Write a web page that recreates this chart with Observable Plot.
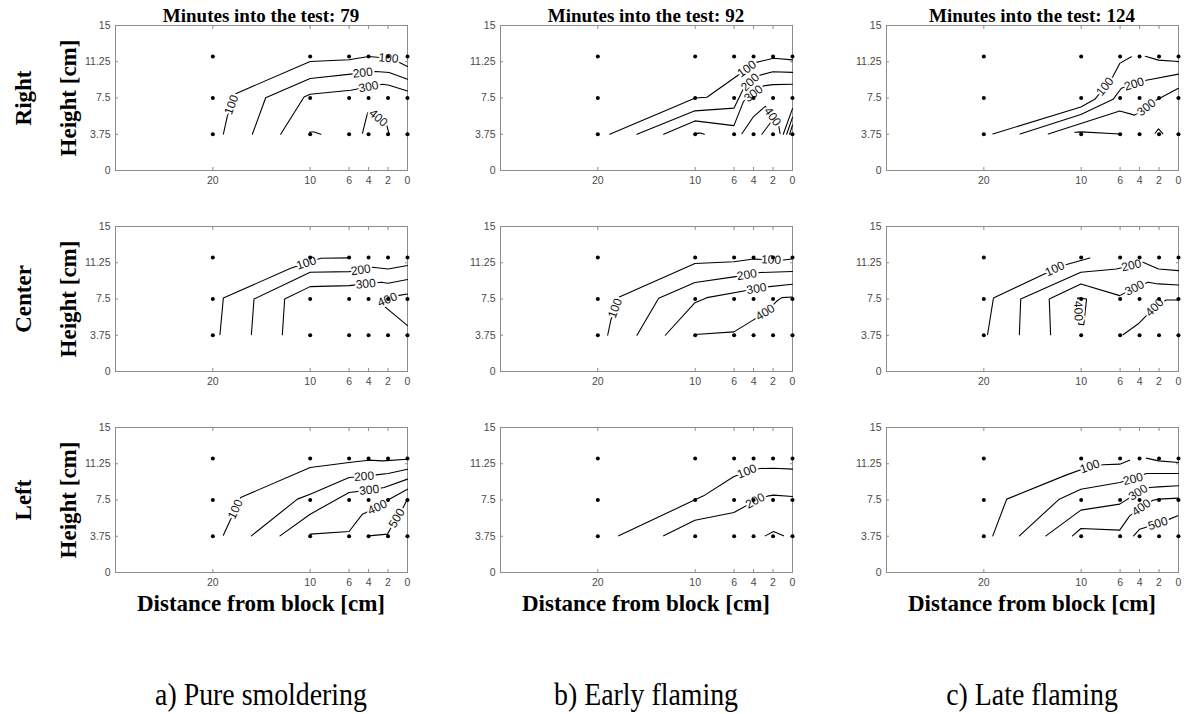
<!DOCTYPE html>
<html><head><meta charset="utf-8">
<script src="https://cdn.jsdelivr.net/npm/d3@7"></script>
<script src="https://cdn.jsdelivr.net/npm/@observablehq/plot@0.6"></script>
<style>
body{margin:0;background:#fff;}
#fig{position:relative;width:1184px;height:714px;overflow:hidden;background:#fff;}
.lbl{position:absolute;font-family:"Liberation Serif","Times New Roman",serif;color:#000;white-space:nowrap;line-height:1;transform:translate(-50%,-50%);}
.b{font-weight:bold;}
.rot{transform:translate(-50%,-50%) rotate(-90deg);}
.cond{transform:translate(-50%,-50%) scaleX(0.87);}
</style></head><body><div id="fig"></div>
<script>
// ---------- data ----------
const xTicks = [20, 10, 6, 4, 2, 0];
const yTicks = [0, 3.75, 7.5, 11.25, 15];
const probeX = [20, 10, 6, 4, 2, 0];
const probeY = [3.75, 7.5, 11.8];
const minutes = [79, 92, 124];
const stages = ["a) Pure smoldering", "b) Early flaming", "c) Late flaming"];
const positions = ["Right", "Center", "Left"];

// contour lines: [level, [[distance, height], ...]]
const linesRightA = [
  [100, [[18.92,3.75],[18.51,5.63],[17.65,7.95],[10,11.28],[6,11.46],[4,11.8],[1.95,11.62],[1.03,11.28],[0,10.76]]],
  [200, [[15.94,3.75],[14.57,7.53],[10,9.51],[5.83,9.97],[3.26,10.24],[1.89,10.14],[0,9.44]]],
  [300, [[13.03,3.75],[10.63,7.6],[10,7.88],[5.83,8.3],[2.57,8.92],[1.89,8.82],[0,8.23]]],
  [300, [[10.05,3.99],[9.6,3.99],[8.9,3.75]]],
  [400, [[4.63,3.85],[4.11,5.97],[3.77,6.08],[2.13,4.69],[1.89,3.75]]]
];
const labelsRightA = [[100,18.08,6.79],[100,1.95,11.62],[200,4.6,10.1],[300,4.0,8.65],[400,3.0,5.43]];

const linesRightB = [
  [100, [[18.78,3.75],[9.99,7.5],[8.79,7.57],[5.71,9.77],[3.83,11.16],[1.95,11.61],[0,11.44]]],
  [200, [[15.98,3.75],[10.02,6.17],[6.02,6.45],[5.03,8.48],[3.66,9.77],[2.02,10.22],[0,10.15]]],
  [300, [[13.24,3.75],[10.02,5.13],[6.02,4.64],[5.03,7.15],[2.98,8.75],[2.02,8.88],[0,8.92]]],
  [300, [[10.02,3.84],[9.48,3.87],[9.06,3.75]]],
  [400, [[5.2,3.8],[4.0,5.58],[2.8,6.63],[1.44,4.71],[1.27,3.8]]],
  [500, [[3.15,3.75],[2.22,4.99],[2.02,4.7]]],
  [500, [[0.95,3.75],[0,6.4]]],
  [600, [[0.6,3.75],[0,5.5]]],
  [700, [[0.3,3.75],[0,4.7]]]
];
const labelsRightB = [[100,4.69,10.52],[200,4.35,9.12],[300,4.0,7.95],[400,2.05,5.57]];

const linesRightC = [
  [100, [[19.08,3.78],[10.03,6.56],[8.6,7.36],[6.79,9.62],[6.04,11.08],[4.85,11.77]]],
  [100, [[3.41,11.81],[2.05,11.42],[0,11.28]]],
  [200, [[16.28,3.78],[10.03,5.8],[6.72,7.36],[5.87,8.51],[3.31,9.34],[0,9.97]]],
  [300, [[13.38,3.78],[6.04,6.15],[4.51,5.73],[3.55,6.32],[2.46,7.19],[0,8.51]]],
  [400, [[10.65,3.96],[10.0,4.0],[6.04,3.78]]],
  [500, [[2.4,3.85],[2.05,4.3],[1.6,3.8]]]
];
const labelsRightC = [[100,7.55,8.68],[200,4.55,8.94],[300,3.3,6.52]];

const linesCenterA = [
  [100, [[19.27,3.8],[18.92,7.6],[12.0,10.68],[8.91,11.72],[6,11.75]]],
  [200, [[16.04,3.8],[15.77,7.5],[10,10.27],[6,10.33],[4.8,10.5],[3.6,10.78],[1.99,10.61],[0,10.96]]],
  [300, [[12.86,3.8],[12.62,7.5],[10,8.78],[6,8.88],[4.29,9.06],[2.74,9.23],[1.99,9.13],[0,9.51]]],
  [400, [[0,8.02],[1.03,7.85],[2.06,7.43],[2.74,7.05],[0,4.74]]]
];
const labelsCenterA = [[100,10.4,11.22],[200,4.8,10.5],[300,4.29,9.06],[400,2.06,7.43]];

const linesCenterB = [
  [100, [[18.99,3.75],[18.65,5.38],[17.79,7.71],[10.02,11.18],[6.02,11.35],[4.0,11.63],[2.2,11.55],[0.92,11.53],[0.07,11.63]]],
  [200, [[15.98,3.75],[13.75,7.57],[10.02,9.2],[6.02,9.79],[4.69,10.0],[3.32,10.24],[0,10.35]]],
  [300, [[13.07,3.75],[10.02,7.12],[8.79,7.64],[4.0,8.5],[2.63,8.75],[0,9.03]]],
  [400, [[10.02,3.82],[6.02,4.1],[4.51,5.03],[2.8,6.1],[1.61,7.29],[1.09,7.64],[0,7.71]]]
];
const labelsCenterB = [[100,18.22,6.55],[100,2.2,11.55],[200,4.69,10.0],[300,3.7,8.56],[400,2.8,6.1]];

const linesCenterC = [
  [100, [[19.62,3.8],[19.01,7.6],[12.7,10.61],[11.5,11.06],[9.11,11.75]]],
  [200, [[16.35,3.8],[16.21,7.5],[10.03,10.27],[6.38,10.61],[4.85,10.96],[3.65,11.3],[2.05,10.61],[0,10.44]]],
  [300, [[13.14,3.8],[13.28,7.5],[10.03,9.06],[6.04,7.85],[4.51,8.64],[3.14,9.23],[2.05,9.06],[0,8.95]]],
  [400, [[10.35,7.62],[9.45,7.5],[9.73,4.84],[10.25,4.9],[10.35,7.62]]],
  [400, [[5.7,3.8],[4.16,4.91],[2.46,6.64],[1.26,7.4],[0,7.4]]]
];
const labelsCenterC = [[100,12.7,10.61],[200,4.85,10.96],[300,4.51,8.64],[400,10.3,6.26],[400,2.46,6.64]];

const linesLeftA = [
  [100, [[18.92,3.85],[17.14,7.76],[10,10.86],[6,11.38],[4,11.62],[2.57,11.55],[0,11.72]]],
  [200, [[16.04,3.79],[11.31,7.59],[10,8.1],[6,9.83],[4.46,9.95],[3.26,10.1],[1.99,10.24],[0,10.69]]],
  [300, [[13.1,3.79],[10,6.03],[6,8.28],[3.94,8.52],[2.4,8.79],[0,9.66]]],
  [400, [[10,3.97],[6,4.24],[4.63,6.03],[3.09,6.75],[2.06,7.48],[0,8.62]]],
  [500, [[4,3.79],[2.06,3.97],[1.78,4.48],[1.1,5.62],[0.41,6.79],[0.07,7.48]]]
];
const labelsLeftA = [[100,17.69,6.55],[200,4.46,9.95],[300,3.94,8.52],[400,3.09,6.75],[500,1.1,5.62]];

const linesLeftB = [
  [100, [[17.86,3.79],[10.02,7.52],[9.13,7.93],[6.06,9.9],[4.69,10.45],[3.32,10.76],[1.95,10.79],[0,10.69]]],
  [200, [[13.24,3.79],[10.02,5.41],[6.02,6.21],[3.83,7.41],[2.46,7.93],[1.95,8.0],[0,7.86]]],
  [300, [[2.8,3.79],[1.95,4.24],[0.92,3.79]]]
];
const labelsLeftB = [[100,4.69,10.45],[200,3.83,7.41]];

const linesLeftC = [
  [100, [[19.08,3.79],[17.65,7.59],[11.5,10.1],[9.11,10.97],[7.75,11.14],[6.04,11.21],[5.02,11.62]]],
  [100, [[3.31,11.83],[2.05,11.55],[0,11.38]]],
  [200, [[16.35,3.79],[12.25,7.59],[10.03,8.62],[6.04,9.31],[4.68,9.66],[3.31,10.24],[0,10.24]]],
  [300, [[13.62,3.79],[10.03,6.45],[6.04,7.07],[4.16,8.28],[2.97,8.79],[2.05,8.86],[0,8.97]]],
  [400, [[10.89,3.79],[10.03,4.55],[6.04,4.38],[5.02,5.86],[3.82,6.72],[2.63,7.48],[2.05,7.59],[0,7.69]]],
  [500, [[4.61,3.79],[3.99,4.48],[2.12,5.07],[0.92,5.52],[0.07,5.86]]]
];
const labelsLeftC = [[100,9.11,10.97],[200,4.68,9.66],[300,4.16,8.28],[400,3.82,6.72],[500,2.12,5.07]];

const panelLines = [
  [linesRightA, linesRightB, linesRightC],
  [linesCenterA, linesCenterB, linesCenterC],
  [linesLeftA, linesLeftB, linesLeftC]
];
const panelLabels = [
  [labelsRightA, labelsRightB, labelsRightC],
  [labelsCenterA, labelsCenterB, labelsCenterC],
  [labelsLeftA, labelsLeftB, labelsLeftC]
];

// ---------- layout ----------
const colL = [115, 500, 886];
const rowT = [25, 226, 427];
const IW = 292, IH = 145;
const mL = 45, mR = 8, mT = 6, mB = 22;
const kx = IW / 30, ky = IH / 15;

const probes = probeY.flatMap(y => probeX.map(x => ({x, y})));

function labelAngle(lines, lab) {
  const [lv, x, y] = lab;
  let best = Infinity, ang = 0;
  const px = -x * kx, py = -y * ky;
  for (const [level, pts] of lines) {
    if (level !== lv) continue;
    for (let i = 0; i < pts.length - 1; i++) {
      const ax = -pts[i][0] * kx, ay = -pts[i][1] * ky;
      const bx = -pts[i + 1][0] * kx, by = -pts[i + 1][1] * ky;
      const dx = bx - ax, dy = by - ay, L2 = dx * dx + dy * dy;
      let t = L2 ? ((px - ax) * dx + (py - ay) * dy) / L2 : 0;
      t = Math.max(0, Math.min(1, t));
      const d = Math.hypot(ax + t * dx - px, ay + t * dy - py);
      if (d < best - 1e-9) {
        best = d;
        let a = Math.atan2(dy, dx) * 180 / Math.PI;
        if (a > 90) a -= 180;
        if (a <= -90) a += 180;
        ang = a;
      }
    }
  }
  return ang;
}

const fig = document.getElementById("fig");

for (let r = 0; r < 3; r++) {
  for (let c = 0; c < 3; c++) {
    const lines = panelLines[r][c];
    const rows = lines.flatMap(([level, pts], i) => pts.map(([x, y]) => ({x, y, id: i, level})));
    const labs = panelLabels[r][c].map(l => ({level: l[0], x: l[1], y: l[2], a: labelAngle(lines, l)}));
    const svg = Plot.plot({
      width: mL + IW + mR, height: mT + IH + mB,
      marginLeft: mL, marginRight: mR, marginTop: mT, marginBottom: mB,
      style: {fontFamily: "'Liberation Sans', Arial, sans-serif", fontSize: "10.5px", background: "transparent", overflow: "visible"},
      x: {domain: [30, 0], label: null},
      y: {domain: [0, 15], label: null},
      marks: [
        Plot.axisX({ticks: xTicks, tickSize: -3, tickPadding: 9, fill: "#4a4a4a", stroke: "#8c8c8c", label: null, tickFormat: d => String(d)}),
        Plot.axisX({anchor: "top", ticks: xTicks, tickSize: -3, fill: "none", stroke: "#8c8c8c", label: null}),
        Plot.axisY({ticks: yTicks, tickSize: -3, tickPadding: 8, fill: "#4a4a4a", stroke: "#8c8c8c", label: null, tickFormat: d => String(d)}),
        Plot.axisY({anchor: "right", ticks: yTicks, tickSize: -3, fill: "none", stroke: "#8c8c8c", label: null}),
        Plot.frame({stroke: "#8c8c8c"}),
        Plot.line(rows, {x: "x", y: "y", z: "id", stroke: "#000", strokeWidth: 1.1}),
        Plot.text(labs, {x: "x", y: "y", text: d => String(d.level), rotate: "a", fill: "#111", stroke: "#fff", strokeWidth: 4, fontSize: 12}),
        Plot.dot(probes, {x: "x", y: "y", r: 2, fill: "#000", stroke: "none"})
      ]
    });
    svg.style.position = "absolute";
    svg.style.left = (colL[c] - mL) + "px";
    svg.style.top = (rowT[r] - mT) + "px";
    fig.appendChild(svg);
  }
}

function addText(txt, x, y, size, bold, cls) {
  const d = document.createElement("div");
  d.className = "lbl" + (bold ? " b" : "") + (cls ? " " + cls : "");
  d.textContent = txt;
  d.style.left = x + "px";
  d.style.top = y + "px";
  d.style.fontSize = size + "px";
  fig.appendChild(d);
}

for (let c = 0; c < 3; c++) {
  const cx = colL[c] + IW / 2;
  addText(`Minutes into the test: ${minutes[c]}`, cx, 15, 19, true, "");
  addText("Distance from block [cm]", cx, 603, 23, true, "");
  addText(stages[c], cx, 694, 32, false, "cond");
}
for (let r = 0; r < 3; r++) {
  const cy = rowT[r] + IH / 2;
  addText(positions[r], 23, cy, 23, true, "rot");
  addText("Height [cm]", 68, cy, 23, true, "rot");
}
</script></body></html>
